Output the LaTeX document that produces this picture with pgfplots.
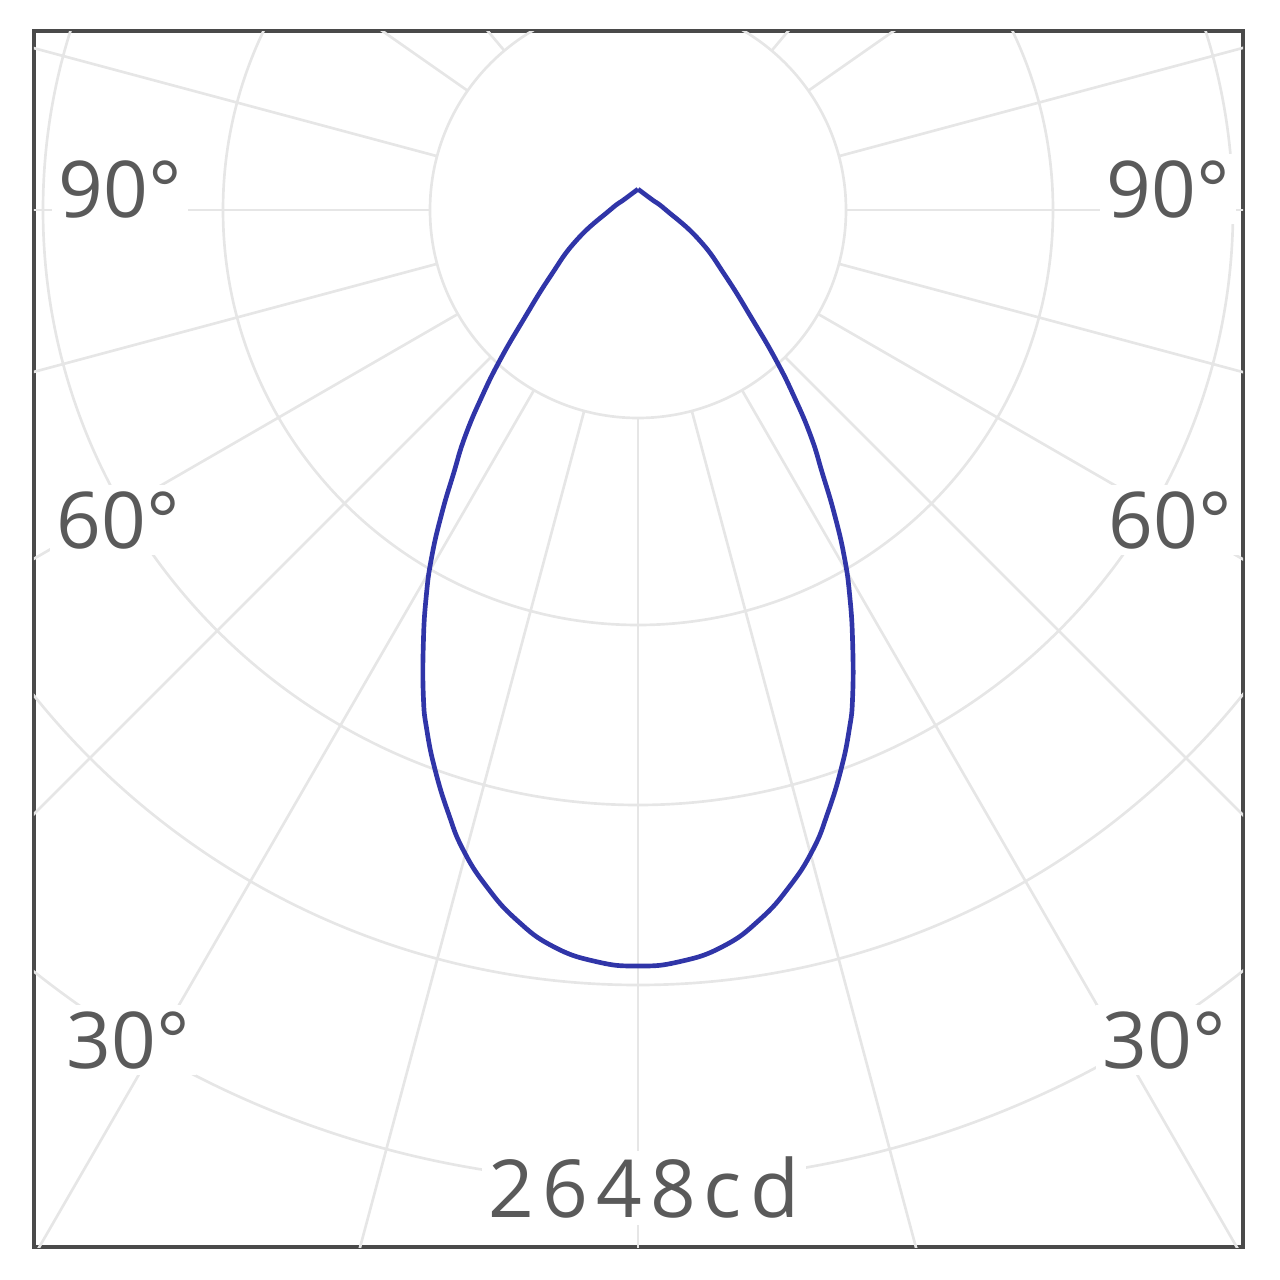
\documentclass[border=0pt]{standalone}
\usepackage{pgfplots}
\pgfplotsset{compat=1.18}
\usepackage{pgfplotstable}
\usepackage{fontspec}
\setmainfont{Open Sans}
\definecolor{gridc}{HTML}{E6E6E6}
\definecolor{framec}{HTML}{4A4A4A}
\definecolor{textc}{HTML}{5A5A5A}
\definecolor{curvec}{HTML}{3035A8}

% angle (deg, negative = left side), luminous intensity (cd)
\pgfplotstableread{
a I
-180 73
-127 61
-90 98
-63.9 239
-52.8 387
-46.2 557
-42.6 714
-39.9 853
-37.35 999
-35.0 1126
-32.9 1265
-30.75 1413
-28.7 1545
-26.35 1694
-23.8 1863
-22.1 1966
-19.9 2087
-17.45 2215
-15.27 2324
-12.6 2429
-9.7 2523
-6.56 2597
-3.15 2637
0 2648
3.15 2637
6.56 2597
9.7 2523
12.6 2429
15.27 2324
17.45 2215
19.9 2087
22.1 1966
23.8 1863
26.35 1694
28.7 1545
30.75 1413
32.9 1265
35.0 1126
37.35 999
39.9 853
42.6 714
46.2 557
52.8 387
63.9 239
90 98
127 61
180 73
}\curvedata

\begin{document}
\begin{tikzpicture}
\begin{axis}[
  at={(0,0)}, anchor=south west,
  scale only axis,
  width=362.7pt, height=364.8pt,
  xmin=-604, xmax=605, ymin=-1037, ymax=179,
  ticks=none,
  axis line style={draw=framec, line width=1.1pt},
  clip=true,
]
\pgfplotsinvokeforeach{62.4,124.5,178.5,232.5,291.6}{
  \draw[gridc, line width=0.8pt] (axis cs:0,0) circle[radius=#1pt];
}
\pgfplotsinvokeforeach{0,15,30,45,60,75,90,105,125,140}{
  \draw[gridc, line width=0.8pt, shift={(axis cs:0,0)}] (270+#1:62.4pt) -- (270+#1:450pt);
  \draw[gridc, line width=0.8pt, shift={(axis cs:0,0)}] (270-#1:62.4pt) -- (270-#1:450pt);
}

\addplot[curvec, line width=1.4pt, smooth, tension=0.8] table[
  x expr={0.2855*\thisrow{I}*sin(\thisrow{a})},
  y expr={-0.2855*\thisrow{I}*cos(\thisrow{a})}
] {\curvedata};

\node[fill=white, inner sep=2pt, text=textc, anchor=base, font=\fontsize{23.5}{28}\selectfont] at (axis cs:-518,-7) {90°};
\node[fill=white, inner sep=2pt, text=textc, anchor=base, font=\fontsize{23.5}{28}\selectfont] at (axis cs:530,-7) {90°};
\node[fill=white, inner sep=2pt, text=textc, anchor=base, font=\fontsize{23.5}{28}\selectfont] at (axis cs:-520,-338) {60°};
\node[fill=white, inner sep=2pt, text=textc, anchor=base, font=\fontsize{23.5}{28}\selectfont] at (axis cs:532,-338) {60°};
\node[fill=white, inner sep=2pt, text=textc, anchor=base, font=\fontsize{23.5}{28}\selectfont] at (axis cs:-510,-858) {30°};
\node[fill=white, inner sep=2pt, text=textc, anchor=base, font=\fontsize{23.5}{28}\selectfont] at (axis cs:526,-858) {30°};
\node[fill=white, inner sep=2pt, text=textc, anchor=base, font=\fontsize{24}{28}\selectfont\addfontfeature{LetterSpace=10}] at (axis cs:6,-1008) {2648cd};
\end{axis}
\pgfresetboundingbox
\path[use as bounding box] (-10.2pt,-9.9pt) rectangle (373.8pt,374.1pt);
\end{tikzpicture}
\end{document}
